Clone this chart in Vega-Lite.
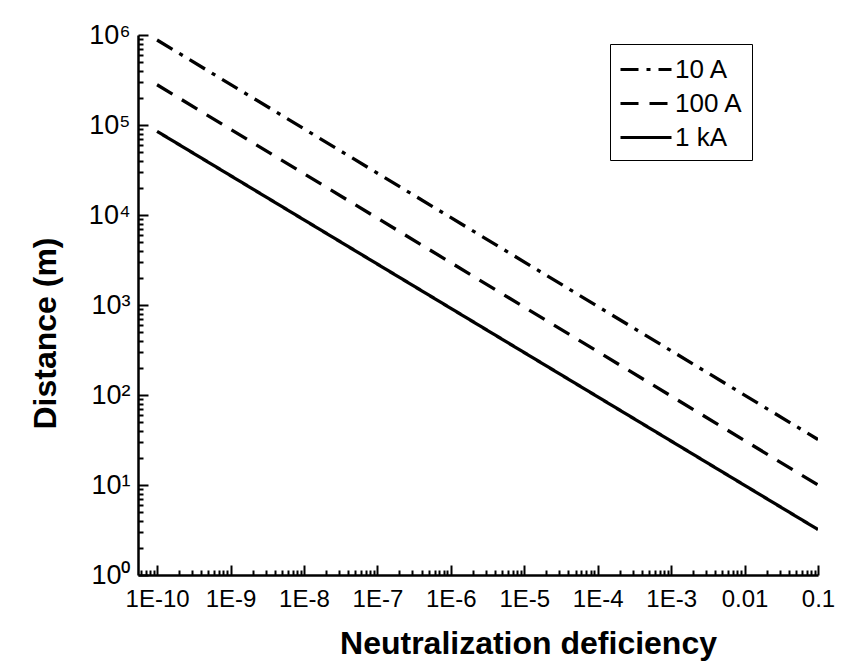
{
  "$schema": "https://vega.github.io/schema/vega-lite/v6.json",
  "width": 680,
  "height": 540,
  "autosize": {"type": "none"},
  "padding": {"left": 138, "top": 35, "right": 23, "bottom": 92},
  "background": "white",
  "config": {"view": {"stroke": null}, "font": "Liberation Sans"},
  "data": {
    "values": [
      {"f": 1e-10, "d": 880000, "series": "10 A"},
      {"f": 0.1, "d": 32, "series": "10 A"},
      {"f": 1e-10, "d": 280000, "series": "100 A"},
      {"f": 0.1, "d": 10, "series": "100 A"},
      {"f": 1e-10, "d": 85000, "series": "1 kA"},
      {"f": 0.1, "d": 3.2, "series": "1 kA"}
    ]
  },
  "mark": {"type": "line", "strokeWidth": 3.3, "color": "black", "clip": true},
  "encoding": {
    "x": {
      "field": "f",
      "type": "quantitative",
      "scale": {"type": "log", "domain": [5.5e-11, 0.1], "nice": false},
      "axis": {
        "title": "Neutralization deficiency",
        "titleFont": "Liberation Sans",
        "titleFontSize": 32,
        "titleFontWeight": "bold",
        "titleColor": "black",
        "titlePadding": 12,
        "titleX": 390,
        "titleAlign": "center",
        "values": [6e-11, 7e-11, 8e-11, 9e-11, 1e-10, 2e-10, 3e-10, 4e-10, 5e-10, 6e-10, 7e-10, 8e-10, 9e-10, 1e-9, 2e-9, 3e-9, 4e-9, 5e-9, 6e-9, 7e-9, 8e-9, 9e-9, 1e-8, 2e-8, 3e-8, 4e-8, 5e-8, 6e-8, 7e-8, 8e-8, 9e-8, 1e-7, 2e-7, 3e-7, 4e-7, 5e-7, 6e-7, 7e-7, 8e-7, 9e-7, 1e-6, 2e-6, 3e-6, 4e-6, 5e-6, 6e-6, 7e-6, 8e-6, 9e-6, 1e-5, 2e-5, 3e-5, 4e-5, 5e-5, 6e-5, 7e-5, 8e-5, 9e-5, 1e-4, 2e-4, 3e-4, 4e-4, 5e-4, 6e-4, 7e-4, 8e-4, 9e-4, 1e-3, 2e-3, 3e-3, 4e-3, 5e-3, 6e-3, 7e-3, 8e-3, 9e-3, 0.01, 0.02, 0.03, 0.04, 0.05, 0.06, 0.07, 0.08, 0.09, 0.1],
        "labelExpr": "abs(log(datum.value)/LN10 - round(log(datum.value)/LN10)) > 0.01 ? '' : round(log(datum.value)/LN10) == -1 ? '0.1' : round(log(datum.value)/LN10) == -2 ? '0.01' : '1E' + round(log(datum.value)/LN10)",
        "labelFont": "Liberation Sans",
        "labelFontSize": 24,
        "labelColor": "black",
        "labelOverlap": false,
        "labelBound": false,
        "labelFlush": false,
        "labelPadding": 22,
        "domainColor": "black",
        "domainWidth": 2.5,
        "tickColor": "black",
        "tickWidth": 2,
        "tickSize": {"condition": {"test": "abs(log(datum.value)/LN10 - round(log(datum.value)/LN10)) < 0.01", "value": -10}, "value": -5},
        "grid": false
      }
    },
    "y": {
      "field": "d",
      "type": "quantitative",
      "scale": {"type": "log", "domain": [1, 1000000], "nice": false},
      "axis": {
        "title": "Distance (m)",
        "titleFont": "Liberation Sans",
        "titleFontSize": 32,
        "titleFontWeight": "bold",
        "titleColor": "black",
        "titlePadding": 26,
        "titleY": 298,
        "titleAlign": "center",
        "values": [1, 2, 3, 4, 5, 6, 7, 8, 9, 10, 20, 30, 40, 50, 60, 70, 80, 90, 100, 200, 300, 400, 500, 600, 700, 800, 900, 1000, 2000, 3000, 4000, 5000, 6000, 7000, 8000, 9000, 10000, 20000, 30000, 40000, 50000, 60000, 70000, 80000, 90000, 100000, 200000, 300000, 400000, 500000, 600000, 700000, 800000, 900000, 1000000],
        "labelExpr": "abs(log(datum.value)/LN10 - round(log(datum.value)/LN10)) > 0.01 ? '' : '10' + ['⁰','¹','²','³','⁴','⁵','⁶'][round(log(datum.value)/LN10)]",
        "labelFont": "Liberation Sans",
        "labelFontSize": 27,
        "labelColor": "black",
        "labelOverlap": false,
        "labelBound": false,
        "labelFlush": false,
        "labelPadding": 18,
        "domainColor": "black",
        "domainWidth": 2.5,
        "tickColor": "black",
        "tickWidth": 2,
        "tickSize": {"condition": {"test": "abs(log(datum.value)/LN10 - round(log(datum.value)/LN10)) < 0.01", "value": -10}, "value": -5},
        "grid": false
      }
    },
    "strokeDash": {
      "field": "series",
      "type": "nominal",
      "scale": {"domain": ["10 A", "100 A", "1 kA"], "range": [[18, 8, 4, 8], [18, 11], [1, 0]]},
      "legend": {
        "orient": "none",
        "legendX": 472,
        "legendY": 9,
        "title": null,
        "symbolType": "M-1,0H2.4",
        "symbolSize": 900,
        "symbolStrokeWidth": 3,
        "symbolStrokeColor": "black",
        "symbolFillColor": "transparent",
        "labelFont": "Liberation Sans",
        "labelFontSize": 26,
        "labelColor": "black",
        "labelOffset": 23,
        "strokeColor": "black",
        "fillColor": "white",
        "padding": 9,
        "rowPadding": 4
      }
    }
  }
}
